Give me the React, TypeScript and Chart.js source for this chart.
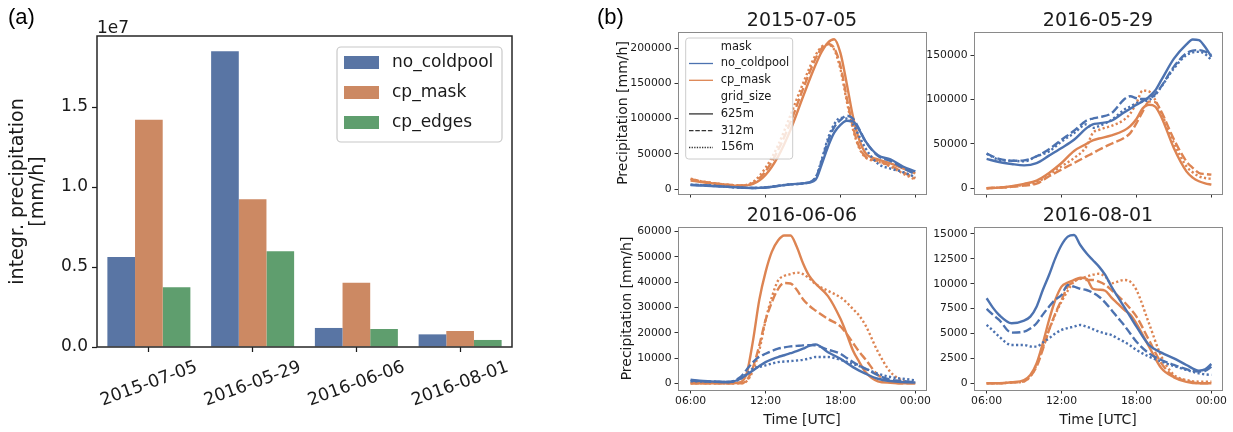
import React, { useEffect, useRef } from 'react';
import { Chart, registerables } from 'chart.js';

Chart.register(...registerables);

const FONT = "'DejaVu Sans', sans-serif";
const INK = '#1a1a1a';
Chart.defaults.font.family = FONT;
Chart.defaults.color = INK;

// ---------------- Panel (a): integrated precipitation ----------------
const barCategories = ['2015-07-05', '2016-05-29', '2016-06-06', '2016-08-01'];
const barSeriesNames = ['no_coldpool', 'cp_mask', 'cp_edges'];
const noColdpoolTotals = [0.563e7, 1.848e7, 0.119e7, 0.079e7];
const cpMaskTotals = [1.42e7, 0.923e7, 0.402e7, 0.1e7];
const cpEdgesTotals = [0.373e7, 0.598e7, 0.1125e7, 0.044e7];
const barYTicks = [0, 0.5e7, 1.0e7, 1.5e7];

// ---------------- Panel (b): time series ----------------
const timeTicks = [6, 12, 18, 24];
const timeTickLabels = ['06:00', '12:00', '18:00', '00:00'];
const maskNames = ['no_coldpool', 'cp_mask'];
const gridNames = ['625m', '312m', '156m'];

// 2015-07-05
const hours0705 = [6, 7, 8, 9, 10, 11, 12, 13, 14, 15, 16, 16.5, 17, 17.5, 18, 18.5, 19, 19.5, 20, 21, 22, 23, 24];
const noCp625_0705 = [5500, 5000, 4000, 3000, 2000, 1500, 2000, 4300, 6600, 8000, 13000, 35000, 60000, 80000, 91000, 97000, 96000, 84000, 68000, 48000, 42000, 32000, 25000];
const noCp312_0705 = [6000, 5500, 4500, 3000, 2000, 1500, 2200, 4500, 6500, 8000, 16000, 40000, 68000, 88000, 98000, 104000, 100000, 85000, 68000, 47000, 40000, 30000, 21000];
const noCp156_0705 = [6000, 5500, 4500, 3000, 2000, 1500, 2200, 4500, 6500, 8000, 16000, 42000, 72000, 92000, 101000, 100000, 92000, 75000, 58000, 36000, 29000, 24000, 17000];
const cpMask625_0705 = [12000, 9500, 7500, 5500, 4700, 7100, 20000, 46000, 84000, 131000, 176000, 195000, 208000, 212800, 193000, 150000, 103000, 70000, 51000, 42000, 36500, 29400, 22300];
const cpMask312_0705 = [14000, 10500, 8000, 6000, 5000, 8500, 25000, 55000, 95000, 142000, 185000, 200000, 206000, 200000, 175000, 130000, 88000, 60000, 46000, 40000, 33000, 24000, 15000];
const cpMask156_0705 = [14500, 10500, 8000, 6000, 5000, 10000, 30000, 62000, 105000, 150000, 190000, 202000, 205000, 198000, 170000, 125000, 85000, 58000, 45000, 39000, 32000, 22000, 13000];

// 2016-05-29
const hours0529 = [6, 7, 8, 9, 10, 11, 12, 13, 14, 14.5, 15, 16, 17, 17.5, 18, 18.5, 19, 19.5, 20, 21, 22, 22.5, 23, 23.5, 24];
const noCp625_0529 = [33000, 29500, 27300, 25800, 28400, 36700, 45300, 54600, 67700, 72000, 73000, 76000, 85300, 89500, 94000, 98000, 103000, 110000, 122000, 146000, 162000, 167600, 166900, 159000, 148000];
const noCp312_0529 = [39000, 33000, 31000, 31400, 36000, 44000, 54600, 64700, 76300, 78500, 80000, 84500, 100000, 103600, 101400, 100500, 101000, 106000, 115000, 137000, 152000, 155000, 155600, 154000, 150000];
const noCp156_0529 = [39000, 32000, 31000, 30300, 36000, 41500, 52700, 62000, 72000, 68000, 70000, 77000, 88300, 92000, 95800, 98000, 99500, 105000, 114500, 135000, 150000, 153000, 153700, 151000, 144400];
const cpMask625_0529 = [0, 700, 2200, 4900, 8600, 17200, 28400, 42000, 50000, 54000, 56000, 59500, 65000, 70000, 78000, 90000, 94000, 92000, 80000, 45000, 19000, 12000, 7900, 5500, 4100];
const cpMask312_0529 = [0, 700, 1500, 3000, 5200, 13500, 21000, 28400, 35900, 39500, 43400, 50100, 56500, 62100, 73300, 86400, 97600, 97000, 86000, 55000, 30300, 23000, 17200, 16000, 15300];
const cpMask156_0529 = [0, 700, 1800, 4000, 6500, 15300, 24700, 34000, 47100, 62100, 65800, 70300, 77000, 84000, 96000, 110000, 109000, 99500, 84500, 50900, 24700, 18000, 13500, 11500, 10500];

// 2016-06-06
const hours0606 = [6, 7, 8, 9, 10, 10.5, 11, 11.5, 12, 12.5, 13, 13.5, 14, 14.5, 15, 15.5, 16, 17, 18, 18.5, 19, 19.5, 20, 21, 22, 23, 24];
const noCp625_0606 = [1400, 900, 650, 500, 1800, 3500, 5100, 6800, 8400, 9500, 10400, 11100, 11900, 12700, 13700, 14800, 15400, 12300, 9700, 8000, 6400, 5000, 3800, 1800, 900, 500, 300];
const noCp312_0606 = [1000, 800, 600, 500, 2500, 5500, 8400, 10500, 11700, 12800, 13700, 14200, 14600, 14800, 15000, 15100, 15000, 13300, 11700, 10000, 8400, 7000, 5800, 3200, 1400, 900, 300];
const noCp156_0606 = [800, 700, 600, 500, 1800, 3800, 5800, 6500, 7100, 7800, 8400, 8600, 8800, 9000, 9300, 9800, 10400, 10400, 9300, 8500, 7700, 6800, 5800, 3800, 2500, 1800, 1200];
const cpMask625_0606 = [0, 0, 0, 0, 500, 4000, 17000, 33000, 44000, 52000, 56500, 58500, 58500, 54000, 47500, 42500, 39500, 34500, 25500, 19500, 13000, 8500, 4500, 800, 200, 0, 0];
const cpMask312_0606 = [0, 0, 0, 0, 0, 1200, 6400, 15000, 25000, 32000, 37300, 39700, 39500, 37000, 33300, 30700, 28800, 25500, 22500, 19500, 16000, 12500, 9500, 3300, 800, 0, 0];
const cpMask156_0606 = [0, 0, 0, 0, 0, 900, 5100, 13000, 24800, 34000, 40600, 42500, 43200, 43800, 43200, 41500, 39300, 36600, 34000, 32000, 29400, 26800, 23000, 12500, 4500, 1000, 200];

// 2016-08-01
const hours0801 = [6, 6.5, 7, 8, 9, 9.5, 10, 10.5, 11, 11.5, 12, 12.5, 13, 13.5, 14, 14.5, 15, 15.5, 16, 16.5, 17, 17.5, 18, 19, 20, 21, 22, 23, 23.5, 24];
const noCp625_0801 = [8540, 7600, 6860, 6030, 6300, 6700, 7700, 9370, 10880, 12550, 13890, 14730, 14900, 13890, 13060, 12390, 11720, 10880, 9710, 8700, 7700, 6700, 5690, 3850, 3080, 2510, 1840, 1270, 1400, 1940];
const noCp312_0801 = [7470, 6900, 6360, 5090, 5190, 5500, 6030, 6900, 7700, 8400, 8870, 9880, 9710, 9500, 9370, 9100, 8700, 8100, 7370, 6600, 5860, 5000, 4180, 3010, 2340, 1840, 1410, 1170, 1250, 1670];
const noCp156_0801 = [5860, 5300, 4690, 3850, 3850, 3700, 3680, 4100, 4520, 5000, 5360, 5550, 5690, 5860, 5690, 5450, 5190, 5000, 4850, 4500, 4180, 3800, 3350, 2680, 2180, 1740, 1340, 1000, 900, 840];
const cpMask625_0801 = [0, 0, 0, 100, 330, 840, 2000, 4020, 6360, 8370, 9710, 10110, 10380, 10600, 10500, 9500, 9400, 9300, 8600, 8000, 7400, 6900, 6000, 3700, 1500, 600, 150, 0, 0, 0];
const cpMask312_0801 = [0, 0, 0, 80, 200, 700, 1670, 3400, 5360, 7000, 8370, 9710, 10210, 10550, 10380, 10380, 10210, 9900, 9370, 8800, 8200, 7500, 6700, 4350, 2000, 670, 270, 0, 0, 0];
const cpMask156_0801 = [0, 0, 0, 80, 200, 700, 1840, 3600, 5360, 6900, 8200, 9300, 10210, 10500, 10710, 10900, 11000, 10710, 10040, 10210, 10380, 10210, 9370, 6030, 2680, 840, 330, 170, 170, 170];

// ---------------- styles ----------------
const barColors = ['#5975a4', '#cc8963', '#5f9e6e'];
const lineColors = ['#4c72b0', '#dd8452'];
const gridDashes: number[][] = [[], [8.5, 3.2], [2.2, 2.4]];
const legendDashes: number[][] = [[], [4.5, 1.8], [1.3, 1.3]];

function roundRect(ctx: CanvasRenderingContext2D, x: number, y: number, w: number, h: number, r: number) {
  ctx.beginPath();
  ctx.moveTo(x + r, y);
  ctx.lineTo(x + w - r, y);
  ctx.arcTo(x + w, y, x + w, y + r, r);
  ctx.lineTo(x + w, y + h - r);
  ctx.arcTo(x + w, y + h, x + w - r, y + h, r);
  ctx.lineTo(x + r, y + h);
  ctx.arcTo(x, y + h, x, y + h - r, r);
  ctx.lineTo(x, y + r);
  ctx.arcTo(x, y, x + r, y, r);
  ctx.closePath();
}

function framePlugin(color: string, width: number) {
  return {
    id: 'frame',
    afterDatasetsDraw(chart: any) {
      const { ctx, chartArea: a } = chart;
      ctx.save();
      ctx.strokeStyle = color;
      ctx.lineWidth = width;
      const o = width % 2 === 1 ? 0.5 : 0;
      ctx.strokeRect(a.left + o, a.top + o, a.right - a.left, a.bottom - a.top);
      ctx.restore();
    },
  };
}

// ---------------- bar chart ----------------
const BAR = { L: 97, T: 36, R: 512, B: 347, padL: 8, YW: 89, padR: 48, XH: 80, padB: 5 };

const barRotLabels = {
  id: 'barRotLabels',
  afterDraw(chart: any) {
    const xs = chart.scales.x;
    const ctx = chart.ctx;
    ctx.save();
    ctx.font = `17.5px ${FONT}`;
    ctx.fillStyle = INK;
    ctx.textAlign = 'center';
    ctx.textBaseline = 'middle';
    (chart.data.labels as string[]).forEach((lab, i) => {
      const px = xs.getPixelForValue(i);
      ctx.save();
      ctx.translate(px, chart.chartArea.bottom + 37);
      ctx.rotate((-20 * Math.PI) / 180);
      ctx.fillText(lab, 0, 0);
      ctx.restore();
    });
    ctx.restore();
  },
};

const barExponent = {
  id: 'barExponent',
  afterDraw(chart: any) {
    const { ctx, chartArea: a } = chart;
    ctx.save();
    ctx.font = `17px ${FONT}`;
    ctx.fillStyle = INK;
    ctx.textAlign = 'left';
    ctx.textBaseline = 'alphabetic';
    ctx.fillText('1e7', a.left, a.top - 3);
    ctx.restore();
  },
};

const barLegend = {
  id: 'barLegend',
  afterDraw(chart: any) {
    const { ctx, chartArea: a } = chart;
    const w = 165, h = 95;
    const x = a.right - 10 - w, y = a.top + 11;
    ctx.save();
    roundRect(ctx, x, y, w, h, 4);
    ctx.fillStyle = 'rgba(255,255,255,0.85)';
    ctx.fill();
    ctx.strokeStyle = '#c8c8c8';
    ctx.lineWidth = 1.2;
    ctx.stroke();
    ctx.font = `17px ${FONT}`;
    ctx.textBaseline = 'middle';
    ctx.textAlign = 'left';
    chart.data.datasets.forEach((ds: any, i: number) => {
      const cy = y + 15.5 + i * 30;
      ctx.fillStyle = ds.backgroundColor;
      ctx.fillRect(x + 7, cy - 6.5, 35, 13);
      ctx.fillStyle = INK;
      ctx.fillText(ds.label, x + 55, cy);
    });
    ctx.restore();
  },
};

function makeBarConfig(): any {
  const b = BAR;
  const series = [noColdpoolTotals, cpMaskTotals, cpEdgesTotals];
  return {
    type: 'bar',
    data: {
      labels: barCategories,
      datasets: series.map((d, i) => ({
        label: barSeriesNames[i],
        data: d,
        backgroundColor: barColors[i],
        borderWidth: 0,
        categoryPercentage: 0.8,
        barPercentage: 1.0,
      })),
    },
    options: {
      responsive: false,
      animation: false,
      events: [],
      layout: { autoPadding: false, padding: { left: b.padL, top: b.T, right: b.padR, bottom: b.padB } },
      plugins: { legend: { display: false }, tooltip: { enabled: false }, title: { display: false } },
      scales: {
        x: {
          offset: true,
          grid: { offset: false, drawOnChartArea: false, drawTicks: true, tickLength: 5, tickColor: INK, tickWidth: 1.25 },
          border: { display: false },
          ticks: { display: false },
          afterFit: (s: any) => { s.height = b.XH; },
        },
        y: {
          min: 0,
          max: 1.944e7,
          afterBuildTicks: (s: any) => { s.ticks = barYTicks.map((v) => ({ value: v })); },
          ticks: { autoSkip: false, padding: 4, font: { size: 17 }, color: INK, callback: (v: any) => (Number(v) / 1e7).toFixed(1) },
          grid: { drawOnChartArea: false, drawTicks: true, tickLength: 5, tickColor: INK, tickWidth: 1.25 },
          border: { display: false },
          title: { display: true, text: ['integr. precipitation', '[mm/h]'], font: { size: 19, lineHeight: '20px' }, padding: 0, color: INK },
          afterFit: (s: any) => { s.width = b.YW; },
        },
      },
    },
    plugins: [framePlugin('#262626', 1.5), barRotLabels, barExponent, barLegend],
  };
}

// ---------------- line subplots ----------------
type Box = { L: number; T: number; R: number; B: number };
type Panel = {
  title: string;
  times: number[];
  series: number[][]; // [noCp625, noCp312, noCp156, cp625, cp312, cp156]
  yMin: number;
  yMax: number;
  yTicks: number[];
  box: Box;
  YW: number;
  padR: number;
  bottomRow: boolean;
  yTitle: boolean;
  legend: boolean;
};

const X_MIN = 4.99;
const X_MAX = 24.85;
const TITLE_H = 22;
const PAD_T = 4;

const panels: Panel[] = [
  {
    title: '2015-07-05', times: hours0705,
    series: [noCp625_0705, noCp312_0705, noCp156_0705, cpMask625_0705, cpMask312_0705, cpMask156_0705],
    yMin: -7100, yMax: 223000, yTicks: [0, 50000, 100000, 150000, 200000],
    box: { L: 678, T: 32, R: 926, B: 194 }, YW: 63, padR: 20, bottomRow: false, yTitle: true, legend: true,
  },
  {
    title: '2016-05-29', times: hours0529,
    series: [noCp625_0529, noCp312_0529, noCp156_0529, cpMask625_0529, cpMask312_0529, cpMask156_0529],
    yMin: -6500, yMax: 176000, yTicks: [0, 50000, 100000, 150000],
    box: { L: 974, T: 32, R: 1222, B: 194 }, YW: 50, padR: 10, bottomRow: false, yTitle: false, legend: false,
  },
  {
    title: '2016-06-06', times: hours0606,
    series: [noCp625_0606, noCp312_0606, noCp156_0606, cpMask625_0606, cpMask312_0606, cpMask156_0606],
    yMin: -2650, yMax: 61850, yTicks: [0, 10000, 20000, 30000, 40000, 50000, 60000],
    box: { L: 678, T: 227, R: 926, B: 390 }, YW: 59, padR: 20, bottomRow: true, yTitle: true, legend: false,
  },
  {
    title: '2016-08-01', times: hours0801,
    series: [noCp625_0801, noCp312_0801, noCp156_0801, cpMask625_0801, cpMask312_0801, cpMask156_0801],
    yMin: -673, yMax: 15700, yTicks: [0, 2500, 5000, 7500, 10000, 12500, 15000],
    box: { L: 974, T: 227, R: 1222, B: 390 }, YW: 50, padR: 10, bottomRow: true, yTitle: false, legend: false,
  },
];

const subLegend = {
  id: 'subLegend',
  afterDraw(chart: any) {
    const { ctx, chartArea: a } = chart;
    const x = a.left + 7.7, y = a.top + 6, w = 107, h = 121;
    ctx.save();
    roundRect(ctx, x, y, w, h, 3);
    ctx.fillStyle = 'rgba(255,255,255,0.8)';
    ctx.fill();
    ctx.strokeStyle = '#cccccc';
    ctx.lineWidth = 1;
    ctx.stroke();
    const rows: { text: string; color: string | null; dash: number[] }[] = [
      { text: 'mask', color: null, dash: [] },
      { text: maskNames[0], color: lineColors[0], dash: [] },
      { text: maskNames[1], color: lineColors[1], dash: [] },
      { text: 'grid_size', color: null, dash: [] },
      { text: gridNames[0], color: '#333333', dash: legendDashes[0] },
      { text: gridNames[1], color: '#333333', dash: legendDashes[1] },
      { text: gridNames[2], color: '#333333', dash: legendDashes[2] },
    ];
    ctx.font = `11.5px ${FONT}`;
    ctx.textBaseline = 'middle';
    ctx.textAlign = 'left';
    rows.forEach((r, i) => {
      const cy = y + 8.7 + i * 16.8;
      if (r.color) {
        ctx.beginPath();
        ctx.setLineDash(r.dash);
        ctx.strokeStyle = r.color;
        ctx.lineWidth = 1.3;
        ctx.moveTo(x + 3.3, cy);
        ctx.lineTo(x + 27.3, cy);
        ctx.stroke();
        ctx.setLineDash([]);
      }
      ctx.fillStyle = INK;
      ctx.fillText(r.text, x + 35, cy);
    });
    ctx.restore();
  },
};

function panelGeometry(p: Panel) {
  const XH = p.bottomRow ? 38 : 6;
  const padB = p.bottomRow ? 2 : 6;
  const { L, T, R, B } = p.box;
  return {
    XH, padB,
    left: L - p.YW,
    top: T - TITLE_H - PAD_T,
    width: p.YW + (R - L) + p.padR,
    height: PAD_T + TITLE_H + (B - T) + XH + padB,
  };
}

function makeLineConfig(p: Panel): any {
  const g = panelGeometry(p);
  const datasets = p.series.map((vals, i) => {
    const m = Math.floor(i / 3);
    const gi = i % 3;
    return {
      label: `${maskNames[m]} ${gridNames[gi]}`,
      data: p.times.map((t, k) => ({ x: t, y: vals[k] })),
      borderColor: lineColors[m],
      backgroundColor: lineColors[m],
      borderWidth: 2.4,
      borderDash: gridDashes[gi],
      pointRadius: 0,
      fill: false,
      cubicInterpolationMode: 'monotone',
    };
  });
  const tickFont = { size: 10.8 };
  return {
    type: 'line',
    data: { datasets },
    options: {
      responsive: false,
      animation: false,
      events: [],
      layout: { autoPadding: false, padding: { left: 0, top: PAD_T, right: p.padR, bottom: g.padB } },
      plugins: {
        legend: { display: false },
        tooltip: { enabled: false },
        title: { display: true, text: p.title, fullSize: false, color: INK, font: { size: 19, lineHeight: '22px', weight: 'normal' }, padding: { top: 0, bottom: 0 } },
      },
      scales: {
        x: {
          type: 'linear',
          min: X_MIN,
          max: X_MAX,
          afterBuildTicks: (s: any) => { s.ticks = timeTicks.map((v) => ({ value: v })); },
          ticks: {
            display: p.bottomRow,
            autoSkip: false,
            maxRotation: 0,
            minRotation: 0,
            padding: 1.5,
            font: tickFont,
            color: INK,
            callback: (v: any) => { const k = timeTicks.indexOf(Number(v)); return k >= 0 ? timeTickLabels[k] : ''; },
          },
          grid: { drawOnChartArea: false, drawTicks: true, tickLength: 3.5, tickColor: '#333333', tickWidth: 1 },
          border: { display: false },
          title: { display: p.bottomRow, text: 'Time [UTC]', color: INK, font: { size: 14, lineHeight: '16px' }, padding: 0 },
          afterFit: (s: any) => { s.height = g.XH; },
        },
        y: {
          type: 'linear',
          min: p.yMin,
          max: p.yMax,
          afterBuildTicks: (s: any) => { s.ticks = p.yTicks.map((v) => ({ value: v })); },
          ticks: { autoSkip: false, padding: 3, font: tickFont, color: INK, callback: (v: any) => String(v) },
          grid: { drawOnChartArea: false, drawTicks: true, tickLength: 3.5, tickColor: '#333333', tickWidth: 1 },
          border: { display: false },
          title: { display: p.yTitle, text: 'Precipitation [mm/h]', color: INK, font: { size: 14, lineHeight: '16px' }, padding: 0 },
          afterFit: (s: any) => { s.width = p.YW; },
        },
      },
    },
    plugins: p.legend ? [framePlugin('#8a8a8a', 1), subLegend] : [framePlugin('#8a8a8a', 1)],
  };
}

const ChartBox: React.FC<{ make: () => any; left: number; top: number; width: number; height: number }> = ({ make, left, top, width, height }) => {
  const ref = useRef<HTMLCanvasElement | null>(null);
  useEffect(() => {
    const chart = new Chart(ref.current as HTMLCanvasElement, make());
    return () => chart.destroy();
  }, []);
  return (
    <canvas
      ref={ref}
      width={width}
      height={height}
      style={{ position: 'absolute', left, top, width, height, display: 'block' }}
    />
  );
};

const panelLabelStyle: React.CSSProperties = {
  position: 'absolute',
  top: 5,
  font: "22px 'Liberation Sans', Arial, sans-serif",
  lineHeight: '24px',
  color: '#000',
  zIndex: 2,
};

export default function App() {
  const barW = BAR.padL + BAR.YW + (BAR.R - BAR.L) + BAR.padR;
  const barH = BAR.T + (BAR.B - BAR.T) + BAR.XH + BAR.padB;
  return (
    <div style={{ position: 'absolute', left: 0, top: 0, width: 1233, height: 432, background: '#ffffff', overflow: 'hidden' }}>
      <ChartBox make={makeBarConfig} left={0} top={0} width={barW} height={barH} />
      {panels.map((p) => {
        const g = panelGeometry(p);
        return <ChartBox key={p.title} make={() => makeLineConfig(p)} left={g.left} top={g.top} width={g.width} height={g.height} />;
      })}
      <div style={{ ...panelLabelStyle, left: 8 }}>(a)</div>
      <div style={{ ...panelLabelStyle, left: 597 }}>(b)</div>
    </div>
  );
}
